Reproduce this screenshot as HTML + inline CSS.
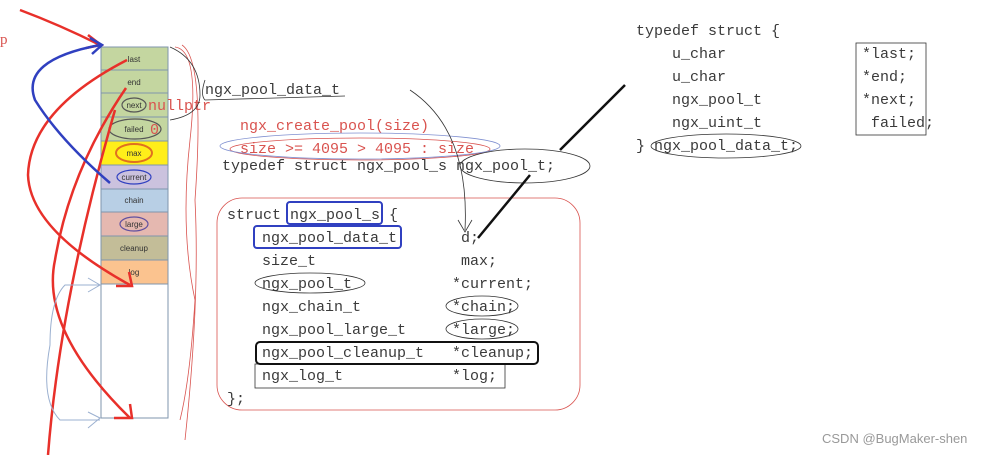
<!DOCTYPE html>
<html><head><meta charset="utf-8"><style>
html,body{margin:0;padding:0;background:#fff;width:1000px;height:455px;overflow:hidden}
svg{display:block}
.c{font-family:"Liberation Mono",monospace;font-size:15px;fill:#3a3a3a}
.r{fill:#d9534f}
.s{font-family:"Liberation Sans",sans-serif;font-size:8px;fill:#333;text-anchor:middle}
</style></head><body>
<svg width="1000" height="455" viewBox="0 0 1000 455">
<g stroke="#7f95ad" stroke-width="1">
<rect x="101" y="47" width="67" height="23" fill="#c4d6a0"/>
<rect x="101" y="70" width="67" height="23" fill="#c4d6a0"/>
<rect x="101" y="93" width="67" height="24" fill="#c4d6a0"/>
<rect x="101" y="117" width="67" height="24" fill="#c4d6a0"/>
<rect x="101" y="141" width="67" height="24" fill="#ffee1a"/>
<rect x="101" y="165" width="67" height="24" fill="#cbc2de"/>
<rect x="101" y="189" width="67" height="23" fill="#b8cfe5"/>
<rect x="101" y="212" width="67" height="24" fill="#e5b8b0"/>
<rect x="101" y="236" width="67" height="24" fill="#c3bd98"/>
<rect x="101" y="260" width="67" height="24" fill="#fbc38f"/>
<rect x="101" y="284" width="67" height="134" fill="#fff"/>
</g>
<text class="s" x="134" y="62">last</text>
<text class="s" x="134" y="85">end</text>
<text class="s" x="134" y="108">next</text>
<text class="s" x="134" y="132">failed</text>
<text class="s" x="134" y="156">max</text>
<text class="s" x="134" y="180">current</text>
<text class="s" x="134" y="203">chain</text>
<text class="s" x="134" y="227">large</text>
<text class="s" x="134" y="251">cleanup</text>
<text class="s" x="134" y="275">log</text>
<g fill="none" stroke-width="1.2">
<ellipse cx="134" cy="153" rx="18" ry="9" stroke="#e07020" stroke-width="2"/>
<ellipse cx="134" cy="177" rx="17" ry="7" stroke="#3040c0"/>
<ellipse cx="134" cy="224" rx="14" ry="7" stroke="#6050a0"/>
<ellipse cx="134" cy="105" rx="12" ry="7" stroke="#555"/>
<ellipse cx="135" cy="129" rx="26" ry="10" stroke="#555"/>
</g>
<text x="0" y="44" font-family="Liberation Serif" font-size="15" fill="#d9534f">p</text>
<text x="148" y="110" class="c r">nullptr</text>
<text x="150" y="134" class="c r">0</text>
<g fill="none" stroke="#e8302a" stroke-width="2.5">
<path d="M20 10 Q60 25 100 45"/><path d="M88 35 L101 45 L86 48"/>
<path d="M127 60 Q30 110 28 175 Q30 230 130 285"/><path d="M116 286 L132 286 L129 272"/>
<path d="M126 88 Q70 170 55 260 Q40 330 130 418"/><path d="M114 418 L132 418 L130 404"/>
<path d="M48 455 Q60 300 115 110"/>
</g>
<g fill="none" stroke="#3040c0" stroke-width="2.5">
<path d="M110 183 Q60 140 35 100 Q20 60 100 45"/><path d="M90 38 L102 45 L92 54"/>
</g>
<g fill="none" stroke="#9bb0d0" stroke-width="1">
<path d="M100 285 H65 Q50 300 50 345 Q40 400 60 420 H100"/><path d="M88 278 L100 285 L88 292"/><path d="M88 412 L100 418 L88 428"/>
</g>
<g fill="none" stroke="#d9534f" stroke-width="0.8">
<path d="M175 47 Q200 50 190 140 Q180 230 195 300 Q190 380 180 420"/>
<path d="M182 45 Q205 60 195 200 Q200 300 185 440"/>
<rect x="217" y="198" width="363" height="212" rx="25"/>
</g>
<path d="M170 47 Q200 60 200 95 Q200 115 170 120" fill="none" stroke="#333" stroke-width="0.8"/>
<text class="c" x="205" y="94">ngx_pool_data_t</text>
<path d="M205 80 Q200 95 205 100 L345 96" fill="none" stroke="#333" stroke-width="0.8"/>
<text class="c r" x="240" y="130">ngx_create_pool(size)</text>
<text class="c r" x="240" y="153">size &gt;= 4095 &gt; 4095 : size</text>
<ellipse cx="360" cy="149" rx="130" ry="11" fill="none" stroke="#d9534f" stroke-width="0.8"/>
<ellipse cx="360" cy="146" rx="140" ry="13" fill="none" stroke="#8090d0" stroke-width="0.8"/>
<text class="c" x="222" y="170">typedef struct ngx_pool_s ngx_pool_t;</text>
<ellipse cx="525" cy="166" rx="65" ry="17" fill="none" stroke="#333" stroke-width="0.8"/>
<text class="c" x="227" y="219">struct ngx_pool_s {</text>
<rect x="287" y="202" width="95" height="22" rx="3" fill="none" stroke="#3040c0" stroke-width="2"/>
<rect x="254" y="226" width="147" height="22" rx="3" fill="none" stroke="#3040c0" stroke-width="2"/>
<text class="c" x="262" y="242">ngx_pool_data_t</text><text class="c" x="461" y="242">d;</text>
<text class="c" x="262" y="265">size_t</text><text class="c" x="461" y="265">max;</text>
<text class="c" x="262" y="288">ngx_pool_t</text><text class="c" x="452" y="288">*current;</text>
<text class="c" x="262" y="311">ngx_chain_t</text><text class="c" x="452" y="311">*chain;</text>
<text class="c" x="262" y="334">ngx_pool_large_t</text><text class="c" x="452" y="334">*large;</text>
<text class="c" x="262" y="357">ngx_pool_cleanup_t</text><text class="c" x="452" y="357">*cleanup;</text>
<text class="c" x="262" y="380">ngx_log_t</text><text class="c" x="452" y="380">*log;</text>
<text class="c" x="227" y="403">};</text>
<g fill="none" stroke="#333" stroke-width="0.8">
<ellipse cx="310" cy="283" rx="55" ry="10"/>
<ellipse cx="482" cy="306" rx="36" ry="10"/>
<ellipse cx="482" cy="329" rx="36" ry="10"/>
<rect x="255" y="364" width="250" height="24"/>
<path d="M410 90 Q470 130 465 230"/>
<path d="M458 220 L465 232 L472 220"/>
</g>
<rect x="256" y="342" width="282" height="22" rx="4" fill="none" stroke="#111" stroke-width="2"/>
<path d="M478 238 L530 175 M560 150 L625 85" stroke="#111" stroke-width="2.5"/>
<text class="c" x="636" y="35">typedef struct {</text>
<text class="c" x="672" y="58">u_char</text><text class="c" x="862" y="58">*last;</text>
<text class="c" x="672" y="81">u_char</text><text class="c" x="862" y="81">*end;</text>
<text class="c" x="672" y="104">ngx_pool_t</text><text class="c" x="862" y="104">*next;</text>
<text class="c" x="672" y="127">ngx_uint_t</text><text class="c" x="871" y="127">failed;</text>
<text class="c" x="636" y="150">} ngx_pool_data_t;</text>
<g fill="none" stroke="#333" stroke-width="0.8">
<rect x="856" y="43" width="70" height="92"/>
<ellipse cx="726" cy="146" rx="75" ry="12"/>
</g>
<text x="822" y="443" font-family="Liberation Sans" font-size="13" fill="#999">CSDN @BugMaker-shen</text>
</svg>
</body></html>
